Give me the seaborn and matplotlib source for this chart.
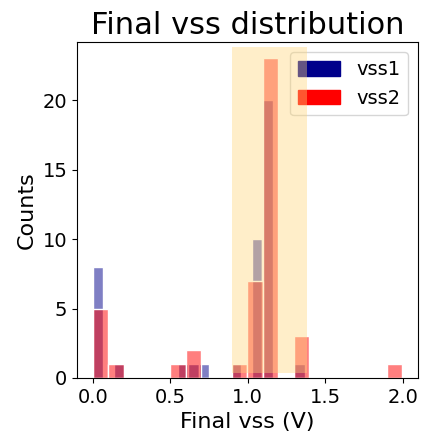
import matplotlib
matplotlib.use("Agg")
import matplotlib.pyplot as plt
import seaborn as sns
from matplotlib.patches import Patch

# readings from the picture: one value per occupied bin, with its count
vss1_values = [0.03, 0.17, 0.58, 0.65, 0.72, 0.92, 1.05, 1.12, 1.33]
vss1_counts = [8, 1, 1, 1, 1, 1, 10, 20, 1]
vss1_range = (0.0, 1.368)

vss2_values = [0.05, 0.15, 0.55, 0.65, 0.95, 1.05, 1.15, 1.35, 1.95]
vss2_counts = [5, 1, 1, 2, 1, 7, 23, 3, 1]
vss2_range = (0.0, 1.995)

window = (0.9, 1.38)
N_BINS = 20

fig, ax = plt.subplots(figsize=(4.24, 4.38), dpi=100)
fig.subplots_adjust(left=0.182, right=0.985, bottom=0.137, top=0.903)

sns.histplot(x=vss1_values, weights=vss1_counts, bins=N_BINS, binrange=vss1_range,
             color="darkblue", alpha=0.5, edgecolor="white", linewidth=1, ax=ax)
sns.histplot(x=vss2_values, weights=vss2_counts, bins=N_BINS, binrange=vss2_range,
             color="red", alpha=0.5, edgecolor="white", linewidth=1, ax=ax)

handles = [Patch(color="darkblue", label="vss1"), Patch(color="red", label="vss2")]
ax.legend(handles=handles, loc="upper right", fontsize=14,
          handlelength=2.2, handleheight=0.8)

# shaded window is drawn over everything, legend included
ax.axvspan(*window, ymin=0.016, ymax=0.987, color=(1.0, 0.84, 0.47), alpha=0.4,
           linewidth=0, zorder=10)

ax.set_title("Final vss distribution", fontsize=22)
ax.set_xlabel("Final vss (V)", fontsize=16)
ax.set_ylabel("Counts", fontsize=16)
ax.tick_params(labelsize=14)
ax.set_xticks([0.0, 0.5, 1.0, 1.5, 2.0])

plt.savefig("out.png", dpi=100)
